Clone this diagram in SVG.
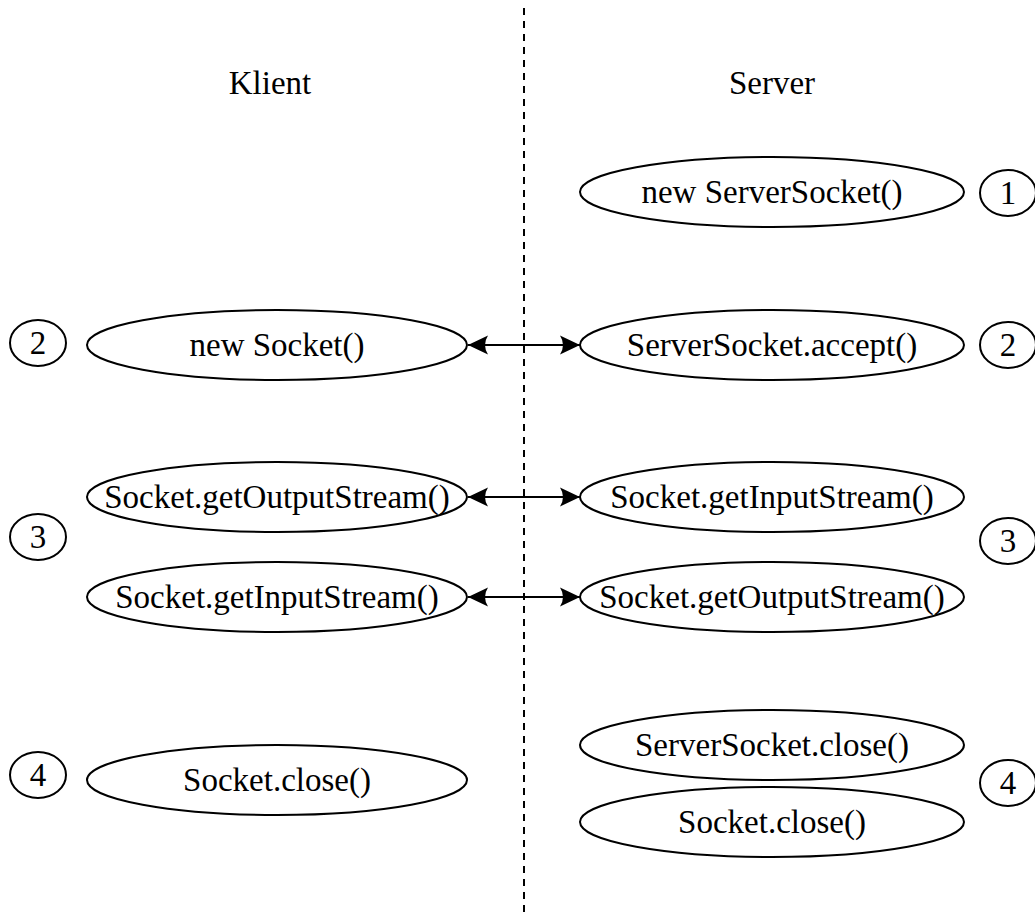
<svg xmlns="http://www.w3.org/2000/svg" width="1035" height="915" viewBox="0 0 1035 915">
  <style>
    .node ellipse { fill: none; stroke: #000; stroke-width: 2; }
    .step ellipse { fill: none; stroke: #000; stroke-width: 2; }
    text { font-family: "Liberation Serif", "DejaVu Serif", serif; font-size: 33px; fill: #000; text-anchor: middle; dominant-baseline: central; }
    .divider { stroke: #000; stroke-width: 2; stroke-dasharray: 7 6; }
    .link { stroke: #000; stroke-width: 2; fill: none; marker-start: url(#head); marker-end: url(#head); }
  </style>
  <defs>
    <!-- latex-style arrow tip, drawn at both ends of each link -->
    <marker id="head" viewBox="-21 -11 22 22" refX="0" refY="0" markerWidth="22" markerHeight="22" markerUnits="userSpaceOnUse" orient="auto-start-reverse">
      <path d="M0,0 L-20,-9.5 Q-14,0 -20,9.5 Z" fill="#000"/>
    </marker>
  </defs>

  <rect width="1035" height="915" fill="#fff"/>

  <!-- divider between client and server -->
  <line class="divider" x1="524" y1="8" x2="524" y2="915"/>

  <!-- column headings -->
  <text x="270" y="83">Klient</text>
  <text x="772" y="83">Server</text>

  <!-- client side -->
  <g id="client-new-socket" class="node">
    <ellipse cx="277" cy="345" rx="190" ry="35"/>
    <text x="277" y="345">new Socket()</text>
  </g>
  <g id="client-output-stream" class="node">
    <ellipse cx="277" cy="497" rx="190" ry="35"/>
    <text x="277" y="497">Socket.getOutputStream()</text>
  </g>
  <g id="client-input-stream" class="node">
    <ellipse cx="277" cy="597" rx="190" ry="35"/>
    <text x="277" y="597">Socket.getInputStream()</text>
  </g>
  <g id="client-close" class="node">
    <ellipse cx="277" cy="780" rx="190" ry="35"/>
    <text x="277" y="780">Socket.close()</text>
  </g>

  <!-- server side -->
  <g id="server-new-serversocket" class="node">
    <ellipse cx="772" cy="192" rx="192" ry="35"/>
    <text x="772" y="192">new ServerSocket()</text>
  </g>
  <g id="server-accept" class="node">
    <ellipse cx="772" cy="345" rx="192" ry="35"/>
    <text x="772" y="345">ServerSocket.accept()</text>
  </g>
  <g id="server-input-stream" class="node">
    <ellipse cx="772" cy="497" rx="192" ry="35"/>
    <text x="772" y="497">Socket.getInputStream()</text>
  </g>
  <g id="server-output-stream" class="node">
    <ellipse cx="772" cy="597" rx="192" ry="35"/>
    <text x="772" y="597">Socket.getOutputStream()</text>
  </g>
  <g id="server-serversocket-close" class="node">
    <ellipse cx="772" cy="745" rx="192" ry="35"/>
    <text x="772" y="745">ServerSocket.close()</text>
  </g>
  <g id="server-socket-close" class="node">
    <ellipse cx="772" cy="822" rx="192" ry="35"/>
    <text x="772" y="822">Socket.close()</text>
  </g>

  <!-- step numbers -->
  <g id="step-client-2" class="step">
    <ellipse cx="38" cy="343" rx="28" ry="23"/>
    <text x="38" y="343">2</text>
  </g>
  <g id="step-client-3" class="step">
    <ellipse cx="38" cy="537" rx="28" ry="23"/>
    <text x="38" y="537">3</text>
  </g>
  <g id="step-client-4" class="step">
    <ellipse cx="38" cy="775" rx="28" ry="23"/>
    <text x="38" y="775">4</text>
  </g>
  <g id="step-server-1" class="step">
    <ellipse cx="1008" cy="193" rx="28" ry="23"/>
    <text x="1008" y="193">1</text>
  </g>
  <g id="step-server-2" class="step">
    <ellipse cx="1008" cy="345" rx="28" ry="23"/>
    <text x="1008" y="345">2</text>
  </g>
  <g id="step-server-3" class="step">
    <ellipse cx="1008" cy="541" rx="28" ry="23"/>
    <text x="1008" y="541">3</text>
  </g>
  <g id="step-server-4" class="step">
    <ellipse cx="1008" cy="783" rx="28" ry="23"/>
    <text x="1008" y="783">4</text>
  </g>

  <!-- connections -->
  <g id="connectors">
    <line class="link" x1="468" y1="345" x2="580" y2="345"/>
    <line class="link" x1="468" y1="497" x2="580" y2="497"/>
    <line class="link" x1="468" y1="597" x2="580" y2="597"/>
  </g>
</svg>
